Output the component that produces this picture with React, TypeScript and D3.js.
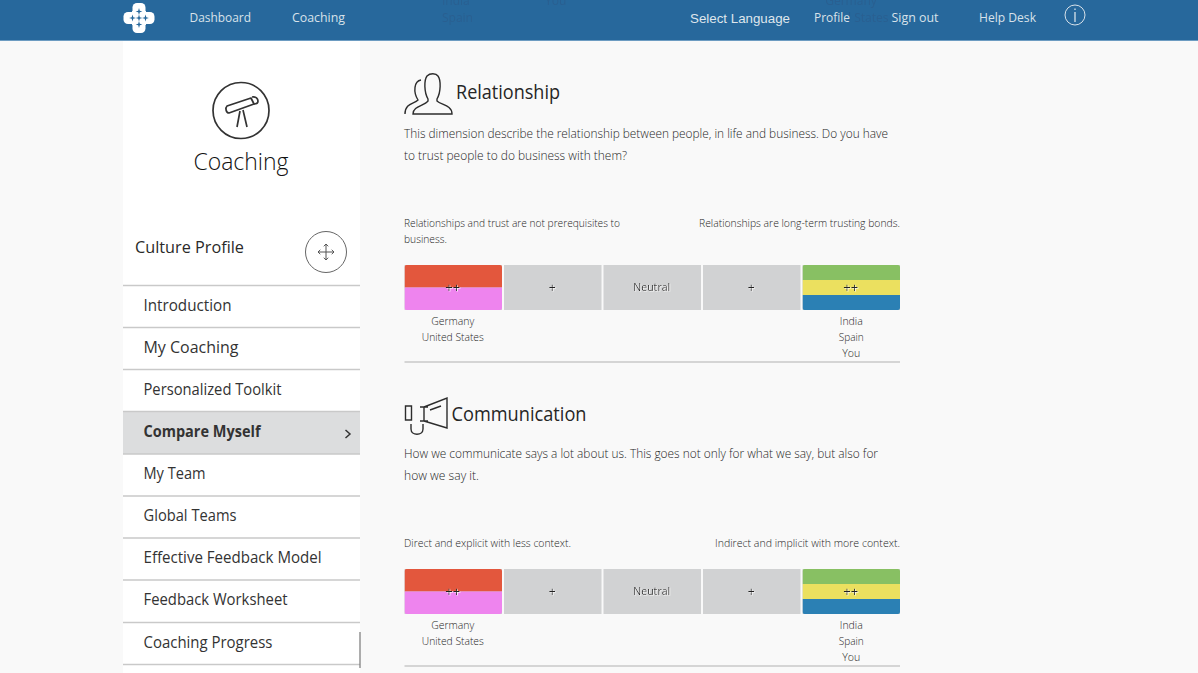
import React from "react";
import * as d3 from "d3";

const levels = ["L2", "L1", "N", "R1", "R2"];
const levelLabels = ["++", "+", "Neutral", "+", "++"];
const relationshipLeft = ["Germany", "United States"];
const relationshipRight = ["India", "Spain", "You"];
const communicationLeft = ["Germany", "United States"];
const communicationRight = ["India", "Spain", "You"];
const countryColors: Record<string, string> = {
  Germany: "#e3573d",
  "United States": "#ee84ee",
  India: "#88c063",
  Spain: "#ebe05f",
  You: "#2b80b4",
};
const navLeft: [string, number, number][] = [["Dashboard", 189.5, 61.5], ["Coaching", 292, 53]];
const navRight: [string, number, number][] = [["Profile", 814, 36], ["Sign out", 891.5, 47], ["Help Desk", 979, 57]];
const menuItems = ["Introduction", "My Coaching", "Personalized Toolkit", "Compare Myself", "My Team", "Global Teams", "Effective Feedback Model", "Feedback Worksheet", "Coaching Progress"];
const menuWidths = [88, 95, 138, 117, 62, 93, 178, 144, 129];
const menuBaselines = [310.5, 352.5, 394.5, 436.5, 478.5, 521, 563, 605, 648];
const menuRules = [285.5, 327.5, 369.5, 411.5, 454, 496, 538, 580, 622.5, 664.5];

const FONT = "'Open Sans', 'Noto Sans', sans-serif";
const BODY = "#262626";
const x = d3.scaleBand<string>().domain(levels).range([404.5, 900]).paddingInner(0.02).paddingOuter(0);

function T({ x, y, w, size, fill = "#3a3a3a", anchor = "start", weight = 400, family = FONT, children }: any) {
  return (
    <text x={x} y={y} fontSize={size} fill={fill} textAnchor={anchor} fontWeight={weight} fontFamily={family}
      textLength={w} lengthAdjust={w ? "spacingAndGlyphs" : undefined}>
      {children}
    </text>
  );
}

function Stack({ level, names, top, h }: { level: string; names: string[]; top: number; h: number }) {
  const y = d3.scaleBand<string>().domain(names).range([top, top + h]);
  const bx = x(level)!;
  const id = `clip-${level}-${top}`;
  return (
    <g>
      <clipPath id={id}><rect x={bx} y={top} width={x.bandwidth()} height={h} rx={2} /></clipPath>
      <g clipPath={`url(#${id})`}>
        {names.map((n) => (
          <rect key={n} x={bx} y={y(n)!} width={x.bandwidth()} height={y.bandwidth()} fill={countryColors[n]} />
        ))}
      </g>
    </g>
  );
}

function Section({ title, titleX, titleW, titleY, desc, descW, descY, leftCap, leftCapW, capY, rightCap, rightCapW, rightX, top, left, right }: any) {
  const h = 45;
  return (
    <g>
      <T x={titleX} y={titleY} size={20} w={titleW} fill="#262626">{title}</T>
      {desc.map((d: string, i: number) => (
        <T key={d} x={404} y={descY + i * 22} size={12.5} w={descW[i]} fill={BODY} weight={300}>{d}</T>
      ))}
      {leftCap.map((d: string, i: number) => (
        <T key={d} x={404} y={capY + i * 16} size={10.5} w={leftCapW[i]} fill={BODY} weight={300}>{d}</T>
      ))}
      <T x={rightX} y={capY} size={10.5} w={rightCapW} fill={BODY} weight={300}>{rightCap}</T>
      {levels.map((l) => (
        <rect key={l} x={x(l)} y={top} width={x.bandwidth()} height={h} fill="#d1d2d3" />
      ))}
      <Stack level="L2" names={left} top={top} h={h} />
      <Stack level="R2" names={right} top={top} h={h} />
      {levels.map((l, i) => (
        <text key={l} x={x(l)! + x.bandwidth() / 2 - 0.5} y={top + (i === 2 ? 26 : 26.5)} fontSize={i === 2 ? 11.5 : 13} textAnchor="middle" fontFamily={FONT}
          fill="#222" filter="url(#emboss)" textLength={i === 2 ? 37 : i === 0 || i === 4 ? 15 : 7} lengthAdjust="spacingAndGlyphs">
          {levelLabels[i]}
        </text>
      ))}
      {left.map((n: string, i: number) => (
        <T key={n} x={x("L2")! + x.bandwidth() / 2 - 0.5} y={top + 60 + i * 16} size={10.5} anchor="middle" w={n === "Germany" ? 43 : 62} fill={BODY} weight={300}>{n}</T>
      ))}
      {right.map((n: string, i: number) => (
        <T key={n} x={x("R2")! + x.bandwidth() / 2} y={top + 60 + i * 16} size={10.5} anchor="middle" w={[23, 25, 18][i]} fill={BODY} weight={300}>{n}</T>
      ))}
      <line x1={404.5} x2={900} y1={top + 97} y2={top + 97} stroke="#c9c9c9" strokeWidth={1.3} />
    </g>
  );
}

function Logo() {
  const lobes = [[139, 9], [139, 27], [130, 18], [148, 18]];
  const stars = [[139, 11.5], [139, 24.5], [132.5, 18], [145.5, 18], [139, 18]];
  return (
    <g>
      {lobes.map(([a, b], i) => (
        <rect key={i} x={a - 6.5} y={b - 6} width={13} height={12} rx={4.5} fill="#fff" />
      ))}
      <rect x={132} y={11} width={14} height={14} fill="#fff" />
      {stars.map(([a, b], i) => (
        <path key={i} d={`M${a},${b - 3.4}l0.8,2.6l2.6,0.8l-2.6,0.8l-0.8,2.6l-0.8,-2.6l-2.6,-0.8l2.6,-0.8Z`} fill="#27689c" />
      ))}
    </g>
  );
}

export default function App() {
  return (
    <svg width={1198} height={673} viewBox="0 0 1198 673" style={{ position: "fixed", left: 0, top: 0, display: "block" }}>
      <defs>
        <filter id="emboss" x="-30%" y="-30%" width="160%" height="160%">
          <feDropShadow dx={0.8} dy={0.6} stdDeviation={0.1} floodColor="#fff" floodOpacity={1} />
        </filter>
      </defs>
      <rect width={1198} height={673} fill="#f9f9f9" />
      <rect x={123} y={41} width={237} height={632} fill="#fff" />
      <rect width={1198} height={40} fill="#27689c" />
      <rect y={40} width={1198} height={1} fill="#6d9cc2" />
      <g opacity={0.9}>
        <T x={442} y={5} size={12} fill="#2a5f90">India</T>
        <T x={442} y={22} size={12} fill="#2a5f90">Spain</T>
        <T x={545} y={5} size={12} fill="#2a5f90">You</T>
        <T x={851} y={5} size={12} fill="#2a5f90" anchor="middle">Germany</T>
        <T x={851} y={22} size={12} fill="#2a5f90" anchor="middle">United States</T>
      </g>
      <Logo />
      {navLeft.concat(navRight).map(([t, a, w]) => (
        <T key={t} x={a} y={22} size={12.5} w={w} fill="#d8e2ea">{t}</T>
      ))}
      <T x={690} y={23} size={13.5} w={100} fill="#dfe6ec" family="'Liberation Sans', sans-serif">Select Language</T>
      <circle cx={1075} cy={15} r={10} fill="none" stroke="#d8e2ea" strokeWidth={1} />
      <path d="M1075,12V22M1075,8.500V10" stroke="#d8e2ea" strokeWidth={1.3} fill="none" />

      <circle cx={241} cy={110.500} r={28} fill="none" stroke="#333" strokeWidth={1.7} />
      <g fill="none" stroke="#333" strokeWidth={1.7} strokeLinejoin="round">
        <path d="M227,106L251,98L254,104L229,113C226,113 225,108 227,106Z" />
        <path d="M252,97C256,96 258,99 258,101C258,103 256,104 254,104" />
        <path d="M240,111L237,127M243,110L247,127" />
      </g>
      <T x={241} y={170} size={24} w={95} anchor="middle" fill="#111" weight={300}>Coaching</T>

      <T x={135} y={253} size={17} w={109} fill="#2a2a2a">Culture Profile</T>
      <circle cx={326} cy={252} r={20.5} fill="#fff" stroke="#666" strokeWidth={1} />
      <path d="M326,244V260M318,252H334M323.800,246.300L326,244L328.200,246.300M323.800,257.700L326,260L328.200,257.700M320.300,249.800L318,252L320.300,254.200M331.700,249.800L334,252L331.700,254.200" fill="none" stroke="#555" strokeWidth={1} />

      <rect x={123} y={412} width={237} height={42} fill="#dcddde" />
      {menuRules.map((r) => (
        <line key={r} x1={123} x2={360} y1={r} y2={r} stroke="#c9c9c9" strokeWidth={1.4} />
      ))}
      {menuItems.map((m, i) => (
        <T key={m} x={143.500} y={menuBaselines[i]} size={15.5} w={menuWidths[i]} weight={i === 3 ? 700 : 400} fill="#333">{m}</T>
      ))}
      <path d="M345.500,430L350,434L345.500,438" fill="none" stroke="#333" strokeWidth={1.5} />
      <line x1={360} x2={360} y1={632} y2={668} stroke="#777" strokeWidth={1.2} />

      <g fill="none" stroke="#2d2d2d" strokeWidth={1.4}>
        <path d="M428,99C424,92 424,80 427,76C430,73 436,73 438,76C441,80 441,92 437,99L437,101C441,105 452,105 452,114H413C413,106 424,106 428,101Z" />
        <path d="M421,80C414,81 413,92 418,100C414,104 405,103 405,114" />
      </g>
      <Section title="Relationship" titleX={456} titleW={104} titleY={99}
        desc={["This dimension describe the relationship between people, in life and business. Do you have", "to trust people to do business with them?"]}
        descW={[484, 223]} descY={138}
        leftCap={["Relationships and trust are not prerequisites to", "business."]} leftCapW={[216, 43]} capY={227}
        rightCap="Relationships are long-term trusting bonds." rightCapW={201} rightX={699}
        top={265} left={relationshipLeft} right={relationshipRight} />

      <g fill="none" stroke="#2d2d2d" strokeWidth={1.4}>
        <path d="M405.500,406H411.500V420H405.500ZM424,407L447,398V428L424,421M424,407V421M420,407H428M420,421H428M430,410L441,406" />
        <path d="M411,424V429C411,436 423,436 423,429V424" />
      </g>
      <Section title="Communication" titleX={451.500} titleW={135} titleY={421}
        desc={["How we communicate says a lot about us. This goes not only for what we say, but also for", "how we say it."]}
        descW={[474, 75]} descY={458}
        leftCap={["Direct and explicit with less context."]} leftCapW={[167]} capY={547}
        rightCap="Indirect and implicit with more context." rightCapW={185} rightX={715}
        top={569} left={communicationLeft} right={communicationRight} />
    </svg>
  );
}
